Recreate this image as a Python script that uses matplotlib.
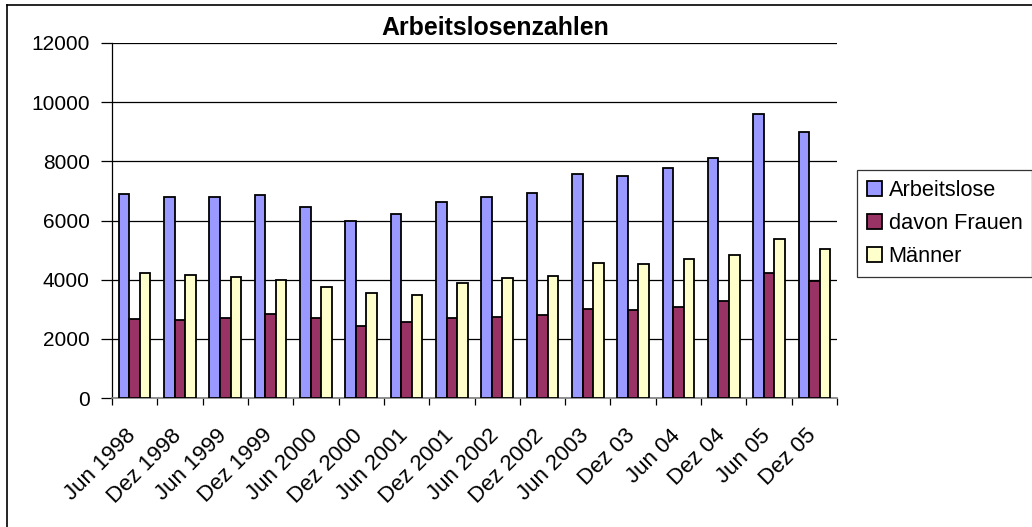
import numpy as np
import matplotlib.pyplot as plt
import matplotlib.transforms as mtransforms
from matplotlib.lines import Line2D

plt.rcParams['font.family'] = ['Liberation Sans', 'DejaVu Sans']

categories = ["Jun 1998", "Dez 1998", "Jun 1999", "Dez 1999", "Jun 2000", "Dez 2000",
              "Jun 2001", "Dez 2001", "Jun 2002", "Dez 2002", "Jun 2003", "Dez 03",
              "Jun 04", "Dez 04", "Jun 05", "Dez 05"]
arbeitslose = [6900, 6800, 6780, 6850, 6450, 6000, 6210, 6610,
               6780, 6940, 7580, 7500, 7770, 8110, 9590, 8990]
frauen = [2660, 2650, 2690, 2830, 2690, 2450, 2580, 2720,
          2730, 2810, 3010, 2970, 3070, 3280, 4210, 3970]
maenner = [4240, 4160, 4080, 4000, 3760, 3550, 3490, 3900,
           4050, 4130, 4570, 4520, 4690, 4830, 5360, 5020]

series = [("Arbeitslose", arbeitslose, "#9999FF"),
          ("davon Frauen", frauen, "#993366"),
          ("Männer", maenner, "#FFFFCC")]

W, H = 1032, 527
fig = plt.figure(figsize=(W / 100, H / 100), dpi=100)
ax = fig.add_axes([112 / W, 1 - 398 / H, (837 - 112) / W, (398 - 43) / H])

x = np.arange(len(categories))
bw = 0.233
for i, (name, vals, col) in enumerate(series):
    ax.bar(x + (i - 1) * bw, vals, bw, color=col, edgecolor='black',
           linewidth=1.3, label=name, zorder=3)

ax.set_xlim(-0.5, len(categories) - 0.5)
ax.set_ylim(0, 12000)
ax.set_yticks(range(0, 12001, 2000))
ax.yaxis.grid(True, color='black', linewidth=0.9, zorder=0)
for s in ['top', 'right']:
    ax.spines[s].set_visible(False)
ax.spines['left'].set_linewidth(0.9)
ax.spines['bottom'].set_color('#808080')
ax.spines['bottom'].set_linewidth(1.2)

# ticks at category boundaries, labels under category centres
ax.set_xticks(np.arange(-0.5, len(categories) - 0.4, 1))
ax.set_xticklabels([])
ax.set_xticks(x, minor=True)
ax.set_xticklabels(categories, minor=True, rotation=45, ha='right',
                   va='top', rotation_mode='anchor', fontsize=16)
ax.tick_params(axis='x', which='minor', length=0, pad=0)
ax.tick_params(axis='x', which='major', length=5, width=0.9, direction='out')
ax.tick_params(axis='y', length=8, width=0.9, labelsize=15, pad=8)
shift = mtransforms.ScaledTranslation(-9 / 100, -27 / 100, fig.dpi_scale_trans)
for lbl in ax.get_xticklabels(minor=True):
    lbl.set_transform(lbl.get_transform() + shift)

fig.text(495 / W, 1 - 28 / H, "Arbeitslosenzahlen", ha='center', va='center',
         fontsize=17.9, fontweight='bold')

leg = ax.legend(loc='upper left', bbox_to_anchor=(857 / W, 1 - 170 / H),
                bbox_transform=fig.transFigure, fontsize=15.7, frameon=True,
                fancybox=False, edgecolor='black', handlelength=0.7,
                handleheight=0.7, handletextpad=0.3, borderaxespad=0,
                labelspacing=0.55, borderpad=0.45)
leg.get_frame().set_linewidth(0.9)

# chart area border (right and bottom fall outside the image)
fig.add_artist(Line2D([7 / W, 1], [1 - 4.5 / H] * 2, color='black', linewidth=1.2))
fig.add_artist(Line2D([7 / W] * 2, [0, 1 - 4.5 / H], color='black', linewidth=1.2))

fig.savefig("out.png", dpi=100)
